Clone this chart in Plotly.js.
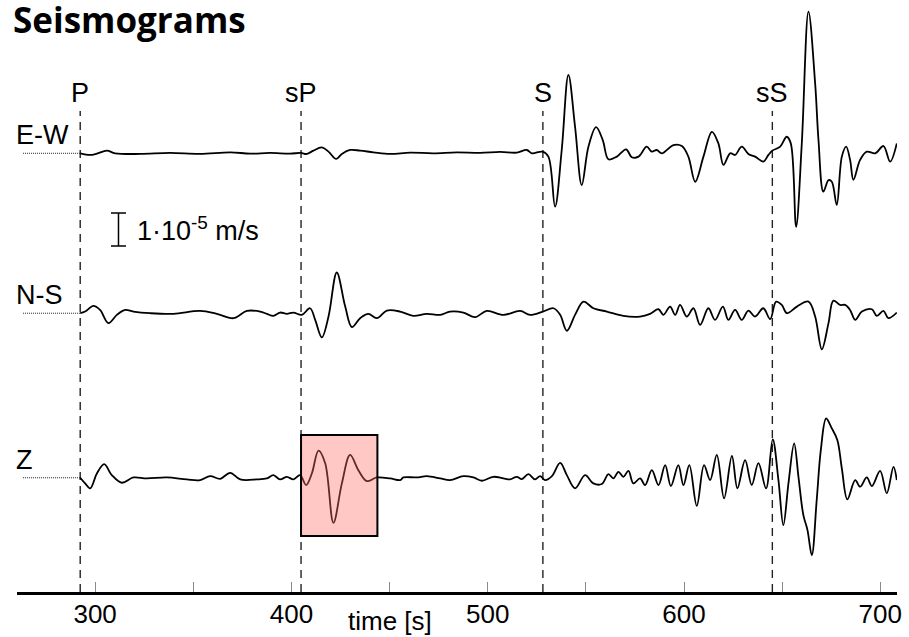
<!DOCTYPE html>
<html>
<head>
<meta charset="utf-8">
<script src="https://cdn.plot.ly/plotly-3.0.1.min.js"></script>
<style>
  html, body { margin: 0; padding: 0; background: #fff; }
  #chart { width: 909px; height: 637px; }
</style>
</head>
<body>
<div id="chart"></div>
<script>
// Three-component seismograms (ground velocity, µm/s) versus time after origin.
const channelNames = ['E-W', 'N-S', 'Z'];
const channelOffsets = [98, 49.7, 0];   // vertical stacking of the traces, µm/s

// Quiet stretch recorded before the first arrival (drawn dotted)
const leadTime = [263.3, 292.4];
const leadVel = [0, 0];

const ewTime = [292.4, 297.5, 300.9, 306, 310.2, 322.9, 338.2, 353.5, 368.8, 379, 389.1, 399.3, 404.9, 407.8, 411.2, 415.5, 418.9, 422.8, 425.7, 429.9, 435, 441.8, 450.3, 460.5, 472.3, 484.2, 496.1, 506.3, 514.8, 519.9, 522.5, 527.9, 530.9, 534.3, 537.7, 541.1, 544.5, 547.9, 551.3, 555.2, 558.6, 561.5, 565.8, 570.5, 573.4, 576.8, 581, 583.6, 586.1, 588.7, 594.6, 598.9, 602.2, 605.7, 609.9, 614.2, 617.5, 620.1, 623.5, 626, 629.4, 632.8, 636.2, 640.4, 643, 645, 649, 652.3, 654.4, 657.1, 660, 663.4, 666.8, 668.5, 671, 673.6, 675.3, 677.8, 680.4, 682.6, 684.6, 686.3, 689.7, 693.1, 697.4, 701.6, 705, 708.4];
const ewVel = [0, -0.5, -0.1, 0.8, 0, -0.2, 0.1, -0.2, 0.3, -0.1, 0.1, -0.1, 0.1, -0.2, 0.8, 1.8, 0.5, -1.7, -0.2, 1.0, 0.8, 0.3, -0.2, 0.2, 0, 0.3, 0.1, 0.4, 0.2, 1.0, 0, 0.5, -1.0, -16.1, 1.0, 23.7, 8.0, -9.6, 2.0, 7.9, 4.0, -1.8, -1.0, 1.2, -1.2, -1.0, 2.0, 0.5, 1.0, 0, 2.5, 2.2, -1.0, -8.6, -1.0, 6.5, 3.0, -3.5, 0, -0.5, 2.0, -0.2, -1.0, -2.5, -0.5, 0.8, 2.0, 5.0, 3.0, -22.2, 3.0, 42.8, 21.1, 4.0, -11.6, -8.1, -8.6, -15.6, -1.0, 2.0, -2.0, -8.0, -2.0, 0.5, 0, 2.2, -2.5, 3.0];

const nsTime = [292.4, 294.9, 299.1, 302.5, 306.8, 311.1, 315.3, 319.5, 328, 339.9, 353.5, 362, 370.5, 377.3, 384.1, 387.5, 390.8, 394.2, 397.7, 401, 405.3, 409.5, 412.1, 415.5, 418.9, 423.1, 427.4, 430.8, 435, 439.2, 443.5, 448.6, 455.4, 462.1, 468.9, 475.8, 480.8, 487.6, 493.6, 499.5, 508, 516.5, 521.6, 528.1, 533.5, 536.9, 540.3, 544.5, 548.8, 553.8, 560.7, 569.1, 577.6, 582.7, 587, 589.5, 592.9, 595.5, 598, 601.4, 604.8, 608.2, 612.4, 615.8, 619.8, 622.6, 626, 629.4, 632.8, 636.2, 640.4, 643.9, 646.9, 649.8, 652.4, 657.5, 663.4, 666.8, 670.2, 673.6, 676.1, 679.5, 682.1, 684.6, 687.2, 690.6, 695.7, 698.2, 701.6, 704.1, 708.4];
const nsVel = [0, 0.5, 2.2, 1.0, -3.0, -0.5, 1.0, 0.5, 0, -0.2, 0.7, -0.2, -1.5, 0.7, 0.5, -0.2, -0.8, 0.2, -0.2, 0.2, -0.5, 1.5, -2.0, -7.3, -1.0, 12.3, 2.0, -4.2, -1.5, -0.2, -1.5, 0.8, 0.5, -0.8, -0.2, -0.5, 0.5, 0.2, -1.2, 0.7, -0.5, 0.7, -0.5, 0.5, 1.5, -0.5, -5.3, -0.5, 3.5, 1.5, 0.5, -0.8, -1.0, -0.2, 1.2, -0.5, 2.0, -0.5, 2.5, -1.0, 1.5, -3.5, 1.5, -2.0, 2.0, -2.0, 1.0, -2.0, 0.8, -1.0, 1.5, -1.8, 3.5, 2.5, 0, 2.0, 3.5, -1.0, -10.9, -3.0, 3.8, 2.5, 2.5, 1.0, -2.0, 0.5, 1.2, -0.8, 0.7, -1.5, 0.2];

const zTime = [292.4, 294.9, 297.5, 300.9, 304.6, 308.5, 313.6, 319.5, 326.3, 336.5, 346.7, 353.5, 358.6, 363.7, 368.8, 373.9, 382.4, 387.5, 390.8, 394.2, 397.7, 401, 404.4, 407.5, 410.4, 413.8, 417.2, 421.4, 425.7, 429.9, 434.1, 438.4, 443.5, 450.3, 455.4, 457.1, 463.9, 469, 475.8, 480.8, 487.6, 492.7, 497, 502.9, 508, 511.4, 514.8, 517.4, 520.7, 524.1, 526.7, 529.2, 532.7, 536.9, 540.3, 544.5, 549.6, 553.8, 558.1, 561.5, 564, 566.6, 569.1, 571.7, 574.2, 577.6, 580.2, 583.6, 587, 590.4, 593.3, 597.1, 599.7, 602.7, 606.5, 610.2, 613.3, 616.7, 620.4, 624.4, 627.2, 631.1, 634.5, 637.9, 641.8, 645.2, 648.1, 650.6, 653.2, 656.1, 658.3, 660.8, 662.9, 665.1, 667.6, 669.7, 672.4, 675.3, 678.1, 680.4, 683.2, 687.2, 689.7, 693.1, 695.7, 699.9, 703.3, 706.7, 708.4];
const zVel = [0, -1.7, -3.2, 1.3, 4.1, 0.8, -1.5, 0.1, -0.2, 0.1, -0.5, -0.7, 0.5, -0.3, 1.5, -0.5, -0.5, -0.2, 0.8, -0.5, 0.3, -0.5, 0.8, -2.2, 1.3, 8.2, 4.4, -13.6, -1.7, 6.9, 2.3, -1.0, 0.1, -0.2, -0.7, 0.1, 0.1, 0.5, -0.2, -0.7, 0.5, 0.1, -0.9, 0.3, -0.2, -0.5, 0.3, -0.4, 1.1, -0.5, 0.5, -0.7, 0.5, 4.5, 0.8, -3.2, 0.8, -1.7, -1.9, 1.1, -0.2, 1.8, 0.3, 2.1, -1.7, -0.2, -2.2, 2.3, -2.2, 3.8, -2.5, 3.8, -2.2, 3.8, -8.5, 3.8, -0.7, 6.9, -6.2, 6.6, -3.2, 5.3, -2.2, 4.4, -3.2, 11.6, -0.7, -14.3, -1.7, 10.4, 0.3, -11.3, -15.8, -23.4, -6.7, 8.4, 17.9, 14.9, 11.4, 2.8, -6.5, -0.7, -2.7, 0.1, -2.5, 2.1, -4.7, 3.3, -0.7];

// Phase arrivals (s)
const phaseNames = ['P', 'sP', 'S', 'sS'];
const phaseTimes = [292.4, 404.9, 528.1, 645.0];

// Highlighted sP pulse on the vertical component
const sPWindow = [404.9, 443.8];       // s
const sPWindowVel = [-17.6, 12.9];     // µm/s

// Amplitude scale bar: 1e-5 m/s = 10 µm/s
const scaleBarVel = 10;
const scaleBarTime = 311.9;
const scaleBarCentre = 75;

const xRange = [260.2, 708.5];
const yRange = [-34.5, 144.3];
const markerTop = 110.8;
const phaseLabelLevel = 116.2;

const series = [
  { t: ewTime, v: ewVel },
  { t: nsTime, v: nsVel },
  { t: zTime, v: zVel }
];

const traces = [];
series.forEach((s, i) => {
  const off = channelOffsets[i];
  traces.push({
    x: leadTime, y: leadVel.map(v => v + off),
    mode: 'lines', hoverinfo: 'skip',
    line: { color: '#222', width: 1, dash: '1px,1px' }
  });
  traces.push({
    x: s.t, y: s.v.map(v => v + off),
    mode: 'lines', name: channelNames[i],
    line: { color: '#000', width: 1.8, shape: 'spline', smoothing: 1.0 }
  });
});

// scale bar with end caps
traces.push({
  x: [scaleBarTime], y: [scaleBarCentre],
  mode: 'markers', marker: { size: 1, color: 'rgba(0,0,0,0)' },
  hoverinfo: 'skip',
  error_y: { type: 'constant', value: scaleBarVel / 2, color: '#000', thickness: 1.5, width: 7.5 }
});

const shapes = phaseTimes.map(t => ({
  type: 'line', xref: 'x', yref: 'y',
  x0: t, x1: t, y0: yRange[0], y1: markerTop,
  line: { color: '#222', width: 1.4, dash: '8px,6px' },
  layer: 'below'
}));
shapes.push({
  type: 'rect', xref: 'x', yref: 'y',
  x0: sPWindow[0], x1: sPWindow[1], y0: sPWindowVel[0], y1: sPWindowVel[1],
  fillcolor: 'rgba(255,110,100,0.38)',
  line: { color: '#000', width: 2 },
  layer: 'above'
});

const labelFont = { family: 'Liberation Sans, Arial, sans-serif', size: 27, color: '#000' };

const annotations = [];
phaseNames.forEach((name, i) => {
  annotations.push({
    x: phaseTimes[i], y: phaseLabelLevel, xref: 'x', yref: 'y',
    text: name, showarrow: false, xanchor: 'center', yanchor: 'middle',
    font: labelFont
  });
});
channelNames.forEach((name, i) => {
  annotations.push({
    x: 0, y: channelOffsets[i], xref: 'paper', yref: 'y',
    text: name, showarrow: false, xanchor: 'left', yanchor: 'bottom',
    xshift: -3, yshift: 1, font: labelFont
  });
});
annotations.push({
  x: 320.4, y: scaleBarCentre, xref: 'x', yref: 'y',
  text: '1·10<sup>-5</sup> m/s', showarrow: false, xanchor: 'left', yanchor: 'middle',
  font: labelFont
});
annotations.push({
  x: 450, y: 0, xref: 'x', yref: 'paper',
  text: 'time [s]', showarrow: false, xanchor: 'center', yanchor: 'middle',
  yshift: -29, font: { family: 'Liberation Sans, Arial, sans-serif', size: 26, color: '#000' }
});

const layout = {
  width: 909, height: 637,
  margin: { l: 17, r: 12, t: 0, b: 45 },
  paper_bgcolor: '#fff', plot_bgcolor: '#fff',
  showlegend: false,
  title: {
    text: '<b>Seismograms</b>',
    x: 13 / 909, xref: 'container', xanchor: 'left',
    y: 1 - 8 / 637, yref: 'container', yanchor: 'top',
    font: { family: 'Open Sans, Noto Sans, sans-serif', size: 35, color: '#000' }
  },
  xaxis: {
    range: xRange, showgrid: false, zeroline: false,
    tickmode: 'linear', tick0: 0, dtick: 100,
    ticks: 'inside', ticklen: 10, tickwidth: 1, tickcolor: '#8a8a8a',
    minor: { dtick: 50, ticks: 'inside', ticklen: 10, tickwidth: 1, tickcolor: '#8a8a8a', showgrid: false },
    showline: true, linecolor: '#000', linewidth: 3,
    tickfont: { family: 'Liberation Sans, Arial, sans-serif', size: 26, color: '#000' },
    ticklabelstandoff: -3,
    fixedrange: true
  },
  yaxis: { range: yRange, visible: false, fixedrange: true },
  shapes: shapes,
  annotations: annotations
};

Plotly.newPlot('chart', traces, layout, { displayModeBar: false, staticPlot: true });
</script>
</body>
</html>
